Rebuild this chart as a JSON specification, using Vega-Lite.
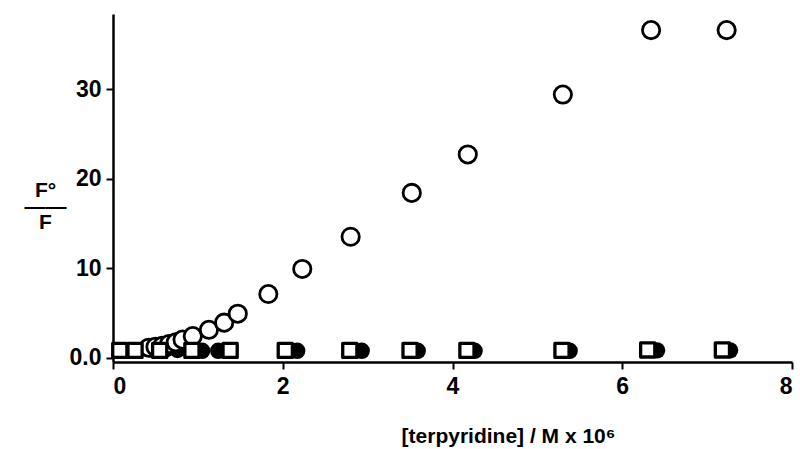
{
  "$schema": "https://vega.github.io/schema/vega-lite/v6.json",
  "width": 679,
  "height": 348,
  "autosize": "none",
  "padding": {"left": 113, "top": 14, "right": 8, "bottom": 87},
  "background": "white",
  "data": {"values": [
    {"series": "filled", "x": 0.45, "y": 0.9},
    {"series": "filled", "x": 0.62, "y": 0.9},
    {"series": "filled", "x": 0.76, "y": 0.85},
    {"series": "filled", "x": 1.05, "y": 0.75},
    {"series": "filled", "x": 1.24, "y": 0.75},
    {"series": "filled", "x": 2.17, "y": 0.75},
    {"series": "filled", "x": 2.93, "y": 0.75},
    {"series": "filled", "x": 3.59, "y": 0.75},
    {"series": "filled", "x": 4.26, "y": 0.75},
    {"series": "filled", "x": 5.38, "y": 0.75},
    {"series": "filled", "x": 6.41, "y": 0.8},
    {"series": "filled", "x": 7.27, "y": 0.8},
    {"series": "open", "x": 0.42, "y": 1.1},
    {"series": "open", "x": 0.5, "y": 1.2},
    {"series": "open", "x": 0.58, "y": 1.3},
    {"series": "open", "x": 0.66, "y": 1.5},
    {"series": "open", "x": 0.74, "y": 1.7},
    {"series": "open", "x": 0.82, "y": 2.0},
    {"series": "open", "x": 0.94, "y": 2.4},
    {"series": "open", "x": 1.13, "y": 3.1},
    {"series": "open", "x": 1.31, "y": 3.9},
    {"series": "open", "x": 1.47, "y": 4.9},
    {"series": "open", "x": 1.83, "y": 7.1},
    {"series": "open", "x": 2.23, "y": 9.9},
    {"series": "open", "x": 2.8, "y": 13.5},
    {"series": "open", "x": 3.52, "y": 18.4},
    {"series": "open", "x": 4.18, "y": 22.7},
    {"series": "open", "x": 5.3, "y": 29.4},
    {"series": "open", "x": 6.34, "y": 36.6},
    {"series": "open", "x": 7.23, "y": 36.6},
    {"series": "square", "x": 0.08, "y": 0.8},
    {"series": "square", "x": 0.26, "y": 0.8},
    {"series": "square", "x": 0.55, "y": 0.8},
    {"series": "square", "x": 0.93, "y": 0.8},
    {"series": "square", "x": 1.38, "y": 0.8},
    {"series": "square", "x": 2.03, "y": 0.8},
    {"series": "square", "x": 2.79, "y": 0.8},
    {"series": "square", "x": 3.5, "y": 0.8},
    {"series": "square", "x": 4.17, "y": 0.8},
    {"series": "square", "x": 5.29, "y": 0.8},
    {"series": "square", "x": 6.3, "y": 0.85},
    {"series": "square", "x": 7.18, "y": 0.85}
  ]},
  "encoding": {
    "x": {
      "field": "x", "type": "quantitative",
      "scale": {"domain": [0, 8], "nice": false, "zero": false},
      "axis": {
        "values": [0, 2, 4, 6, 8], "grid": false, "format": "d",
        "domainColor": "black", "domainWidth": 2.5, "tickColor": "black", "tickWidth": 2, "tickSize": 7,
        "labelFont": "Liberation Sans", "labelFontSize": 23, "labelFontWeight": "bold", "labelColor": "black", "labelPadding": 6,
        "title": "[terpyridine] / M x 10⁶",
        "titleFont": "Liberation Sans", "titleFontSize": 21, "titleFontWeight": "bold", "titleColor": "black",
        "titleX": 395, "titleY": 74, "titleAlign": "center", "titleBaseline": "middle"
      }
    },
    "y": {
      "field": "y", "type": "quantitative",
      "scale": {"domain": [-0.5, 38.4], "nice": false, "zero": false},
      "axis": {
        "values": [0, 10, 20, 30], "grid": false,
        "labelExpr": "datum.value == 0 ? '0.0' : datum.label",
        "domainColor": "black", "domainWidth": 2.5, "tickColor": "black", "tickWidth": 2, "tickSize": 7,
        "labelFont": "Liberation Sans", "labelFontSize": 23, "labelFontWeight": "bold", "labelColor": "black", "labelPadding": 5,
        "title": ["F°", "——", "F"],
        "titleAngle": 0, "titleFont": "Liberation Sans", "titleFontSize": 21, "titleFontWeight": "bold", "titleColor": "black",
        "titleX": -68, "titleY": 176, "titleAlign": "center", "titleBaseline": "middle", "titleLineHeight": 16
      }
    }
  },
  "layer": [
    {
      "transform": [{"filter": "datum.series == 'filled'"}],
      "mark": {"type": "point", "shape": "circle", "filled": true, "color": "black", "opacity": 1, "size": 270}
    },
    {
      "transform": [{"filter": "datum.series == 'open'"}],
      "mark": {"type": "point", "shape": "circle", "filled": false, "fill": "white", "fillOpacity": 1, "stroke": "black", "strokeWidth": 2.8, "opacity": 1, "size": 300}
    },
    {
      "transform": [{"filter": "datum.series == 'square'"}],
      "mark": {"type": "point", "shape": "square", "filled": false, "fill": "white", "fillOpacity": 1, "stroke": "black", "strokeWidth": 3.3, "strokeJoin": "round", "opacity": 1, "size": 200}
    }
  ],
  "config": {"view": {"stroke": null}}
}
